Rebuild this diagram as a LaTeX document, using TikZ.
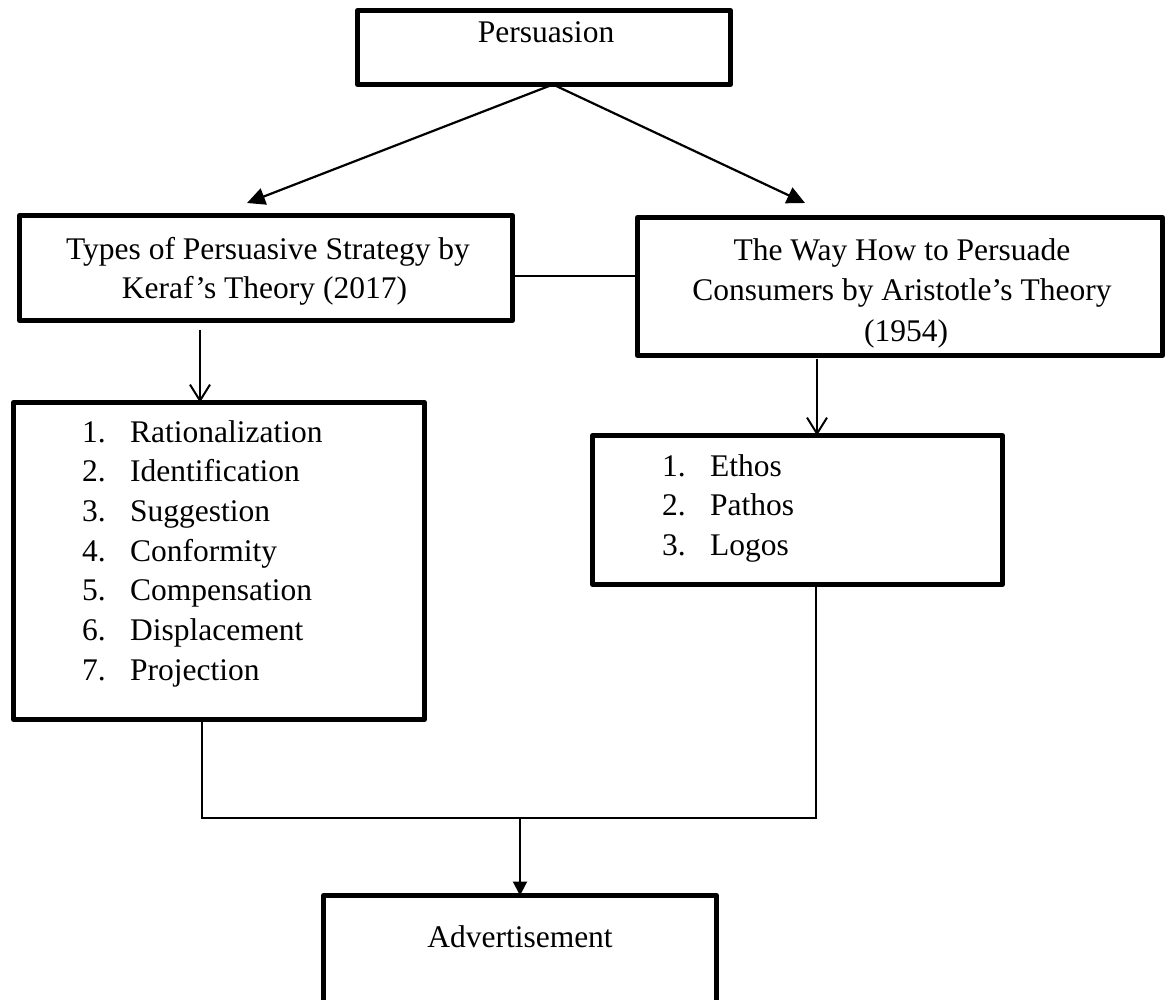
\documentclass[tikz,border=0pt]{standalone}
\usepackage{fontspec}
\setmainfont{Liberation Serif}
\usetikzlibrary{arrows.meta}
\begin{document}
\begin{tikzpicture}[x=1pt,y=-1pt,
  box/.style={draw, line width=5pt, line join=round, inner sep=0pt, outer sep=0pt},
  txt/.style={inner sep=0pt, font=\fontsize{31.5}{40}\selectfont},
  fillarrow/.style={line width=2.2pt, -{Triangle[length=18pt,width=17pt]}},
  downarrow/.style={line width=2pt, -{Triangle[length=14pt,width=14pt]}},
  openarrow/.style={line width=2pt, -{Straight Barb[length=16pt,width=20pt]}},
  thinline/.style={line width=1.6pt}]
\useasboundingbox (0,0) rectangle (1167,999);
\clip (0,0) rectangle (1167,999);
% boxes
\node[box, minimum width=373pt, minimum height=74pt] (pers) at (544,47.5) {};
\node[box, minimum width=493pt, minimum height=105pt] (keraf) at (266,268) {};
\node[box, minimum width=525pt, minimum height=138pt] (arist) at (900,286.5) {};
\node[box, minimum width=411pt, minimum height=317pt] (list1) at (219,561) {};
\node[box, minimum width=410pt, minimum height=149pt] (list2) at (797.5,510) {};
\node[box, minimum width=393pt, minimum height=130pt] (adv) at (520,960.5) {};
% texts
\node[txt, anchor=base] (tpers) at (546,42) {Persuasion};
\node[txt, anchor=base] (tk1) at (268,259) {Types of Persuasive Strategy by};
\node[txt, anchor=base] (tk2) at (264.5,298) {Keraf’s Theory (2017)};
\node[txt, anchor=base] (ta1) at (902,260) {The Way How to Persuade};
\node[txt, anchor=base] (ta2) at (902,300.5) {Consumers by Aristotle’s Theory};
\node[txt, anchor=base] (ta3) at (906,341) {(1954)};
\foreach \t [count=\i] in {Rationalization,Identification,Suggestion,Conformity,Compensation,Displacement,Projection}{
  \node[txt, anchor=base west] (n\i) at (82,{442+(\i-1)*39.7}) {\i.};
  \node[txt, anchor=base west] (w\i) at (130,{442+(\i-1)*39.7}) {\t};
}
\foreach \t [count=\i] in {Ethos,Pathos,Logos}{
  \node[txt, anchor=base west] (e\i) at (662,{476+(\i-1)*39.7}) {\i.};
  \node[txt, anchor=base west] (f\i) at (710,{476+(\i-1)*39.7}) {\t};
}
\node[txt, anchor=base] (tadv) at (520,947) {Advertisement};
% connectors
\draw[fillarrow] ([xshift=9pt]pers.south) -- ([xshift=-19pt,yshift=12.5pt]keraf.north);
\draw[fillarrow] ([xshift=9pt]pers.south) -- ([xshift=-95pt,yshift=14.5pt]arist.north);
\coordinate (k) at ([yshift=-8pt]keraf.east);
\draw[thinline] (k) -- (k -| arist.west);
\coordinate (a1) at ([xshift=-66pt,yshift=-9.5pt]keraf.south);
\draw[openarrow] (a1) -- (a1 |- list1.north);
\coordinate (a2) at ([xshift=-83pt,yshift=-3pt]arist.south);
\draw[openarrow] (a2) -- (a2 |- list2.north);
\coordinate (b1) at ([xshift=-17pt]list1.south);
\coordinate (b2) at ([xshift=18.5pt]list2.south);
\coordinate (m) at ([yshift=77.5pt]adv.north);
\draw[thinline] (b1) |- (m);
\draw[thinline] (b2) |- (m);
\draw[downarrow] (m) -- (adv.north);
\end{tikzpicture}
\end{document}
